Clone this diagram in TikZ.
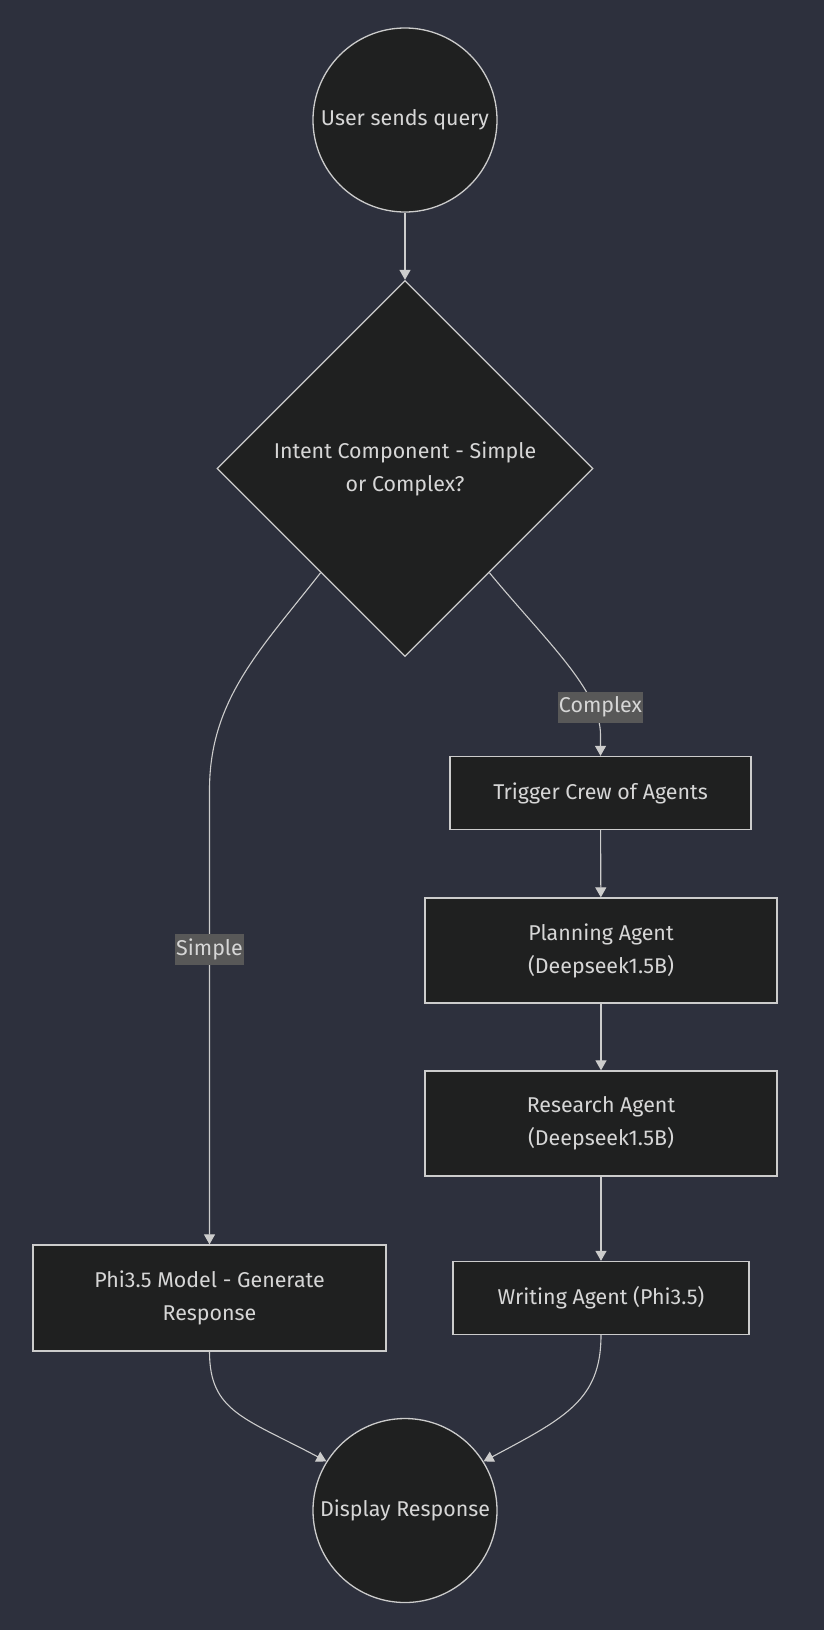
\documentclass[tikz,border=0pt]{standalone}
\usepackage{fontspec}
\setmainfont{Fira Sans}
\usetikzlibrary{shapes.geometric,arrows.meta}
\definecolor{bgc}{RGB}{45,48,61}
\definecolor{nodefill}{RGB}{31,32,32}
\definecolor{strokec}{RGB}{204,204,204}
\definecolor{txtc}{RGB}{214,214,214}
\definecolor{lblbg}{RGB}{88,88,88}
\begin{document}
\begin{tikzpicture}[x=1pt,y=-1pt,
  every node/.style={font=\fontsize{21.4}{33}\selectfont, text=txtc},
  base/.style={draw=strokec, fill=nodefill, line width=1.3pt},
  roundnode/.style={base, circle, minimum size=184pt, inner sep=0pt},
  decide/.style={base, diamond, aspect=1, minimum width=376pt, minimum height=376pt, inner sep=0pt, align=center},
  boxnode/.style={base, rectangle, inner sep=0pt, align=center},
  conn/.style={draw=strokec, line width=1.1pt, -{Triangle[length=10pt,width=11pt]}},
  elabel/.style={fill=lblbg, inner xsep=1pt, inner ysep=0pt, minimum height=31pt, text=txtc}
]
\useasboundingbox[fill=bgc] (0,0) rectangle (824,1630);

\node[roundnode] (start) at (405,120) {User sends query};
\node[decide] (intent) at (405,468.5) {Intent Component - Simple\\or Complex?};
\node[boxnode, minimum width=301pt, minimum height=73pt] (trigger) at (600.5,793) {Trigger Crew of Agents};
\node[boxnode, minimum width=352pt, minimum height=105pt] (planning) at (601,950.5) {Planning Agent\\(Deepseek1.5B)};
\node[boxnode, minimum width=352pt, minimum height=105pt] (research) at (601,1123.5) {Research Agent\\(Deepseek1.5B)};
\node[boxnode, minimum width=296pt, minimum height=73pt] (writing) at (601,1298) {Writing Agent (Phi3.5)};
\node[boxnode, minimum width=353pt, minimum height=106pt] (phi) at (209.5,1298) {Phi3.5 Model - Generate\\Response};
\node[roundnode] (display) at (405,1510.5) {Display Response};

\coordinate (sbend) at (209.5,790);
\coordinate (cbend) at (600.5,735);

\draw[conn] (start) -- (intent);
\draw[conn] (intent.231) .. controls (260,650) and (209.5,700) .. (sbend) -- (phi.north)
  node[elabel, pos=0.35] (lsimple) {Simple};
\draw[conn] (intent.309) .. controls (545,640) and (600.5,690) .. (cbend) -- (trigger.north);
\node[elabel] (lcomplex) at (600.5,707) {Complex};
\draw[conn] (trigger) -- (planning);
\draw[conn] (planning) -- (research);
\draw[conn] (research) -- (writing);
\draw[conn] (phi.south) .. controls (209.5,1412) and (245,1418) .. (display.148);
\draw[conn] (writing.south) .. controls (601,1400) and (565,1418) .. (display.32);
\end{tikzpicture}
\end{document}
